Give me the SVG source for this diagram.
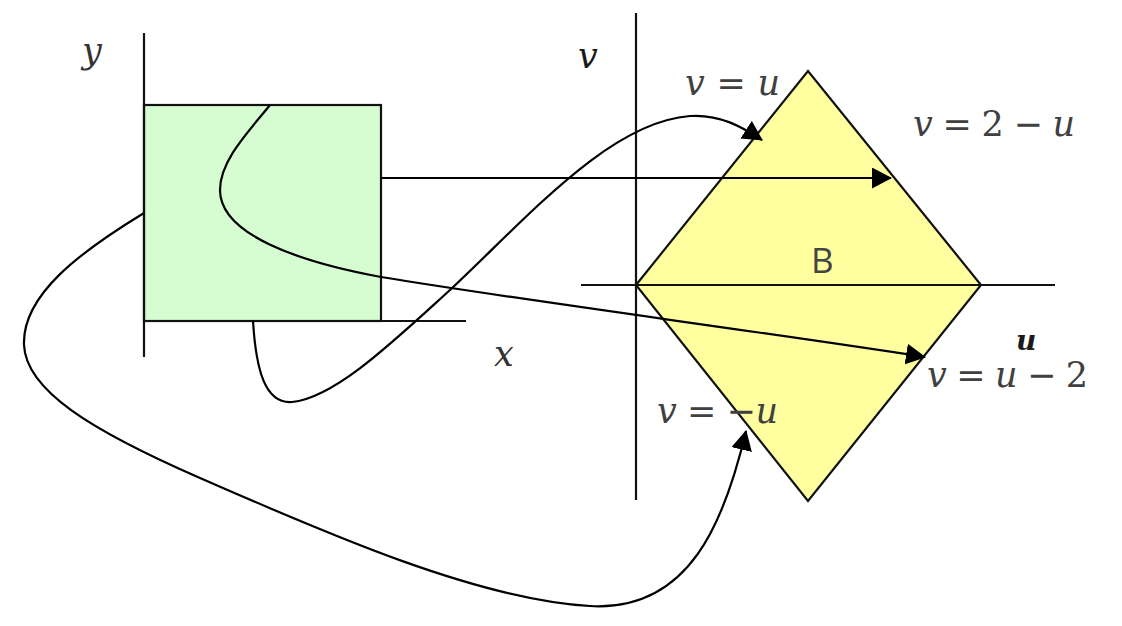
<svg xmlns="http://www.w3.org/2000/svg" width="1122" height="626" viewBox="0 0 1122 626">
<defs>
<style>
.ax{stroke:#111;stroke-width:2.2;fill:none}
.edge{stroke:#111;stroke-width:2.2}
.con{stroke:#000;stroke-width:2.2;fill:none}
.m{font-family:"DejaVu Serif","Liberation Serif",serif;font-size:35px;fill:#404040}
.i{font-style:italic}
.lab{font-family:"DejaVu Serif","Liberation Serif",serif;font-style:italic;font-size:35px;fill:#333}
.b{font-family:"Open Sans","Liberation Sans",sans-serif;font-size:35px;fill:#444}
</style>
<marker id="ah" markerUnits="userSpaceOnUse" markerWidth="20" markerHeight="21" viewBox="0 0 20 21" refX="19" refY="10.5" orient="auto">
<path d="M0,0 L20,10.5 L0,21 z" fill="#000"/>
</marker>
</defs>
<rect width="1122" height="626" fill="#fff"/>

<g id="xy-plane">
<rect x="144" y="105" width="237" height="216" fill="#d6fcd2" class="edge"/>
<line x1="144" y1="33" x2="144" y2="357" class="ax"/>
<line x1="144" y1="321" x2="466" y2="321" class="ax"/>
<text x="82" y="63" class="lab">y</text>
<text x="494" y="366" class="lab">x</text>
</g>

<g id="region-B">
<polygon points="636,285 808,71 981,285 808,501" fill="#ffffa0" class="edge"/>
<line x1="636" y1="13" x2="636" y2="500" class="ax"/>
<line x1="581" y1="285" x2="1055" y2="285" class="ax"/>
<text x="811" y="273" class="b">B</text>
<text x="578" y="68" class="lab" style="fill:#1a1a1a">v</text>
<text x="1016" y="350" class="lab" style="fill:#1a1a1a;font-size:28px;font-weight:bold">u</text>
</g>

<g id="connectors">
<path class="con" d="M270,105 C250,130 220,160 220,190 C220,235 300,262 381,277 C520,300 750,330 925,357" marker-end="url(#ah)"/>
<line x1="381" y1="178" x2="891" y2="178" class="con" marker-end="url(#ah)"/>
<path class="con" d="M253,321 C256,370 265,404 292,402 C335,398 395,340 450,290 C530,215 610,122 690,116 C720,114 742,127 762,140" marker-end="url(#ah)"/>
<path class="con" d="M144,213 C80,252 22,295 24,345 C26,390 90,430 200,478 C330,535 480,600 590,606 C690,612 725,520 746,431" marker-end="url(#ah)"/>
</g>

<g id="labels">
<text x="685" y="95" class="m" textLength="95" lengthAdjust="spacing"><tspan class="i">v</tspan> = <tspan class="i">u</tspan></text>
<text x="913" y="136" class="m" textLength="162" lengthAdjust="spacing"><tspan class="i">v</tspan> = 2 − <tspan class="i">u</tspan></text>
<text x="927" y="387" class="m" textLength="161" lengthAdjust="spacing"><tspan class="i">v</tspan> = <tspan class="i">u</tspan> − 2</text>
<text x="657" y="423" class="m" textLength="121" lengthAdjust="spacing"><tspan class="i">v</tspan> = −<tspan class="i">u</tspan></text>
</g>
</svg>
